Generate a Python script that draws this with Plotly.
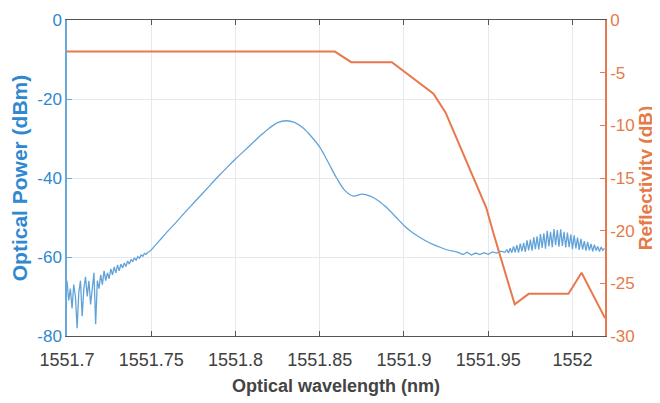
import plotly.graph_objects as go

# ---- Optical power (left axis) ----
wl_left = [1551.700, 1551.701, 1551.702, 1551.703, 1551.704, 1551.705, 1551.706, 1551.707, 1551.708, 1551.709,
           1551.710, 1551.711, 1551.712, 1551.713, 1551.714, 1551.715, 1551.716, 1551.717, 1551.718, 1551.719,
           1551.720, 1551.721, 1551.722, 1551.723, 1551.724, 1551.725, 1551.726, 1551.727, 1551.728, 1551.729,
           1551.730, 1551.731, 1551.732, 1551.733, 1551.734, 1551.735, 1551.736, 1551.737, 1551.738, 1551.739,
           1551.740, 1551.741, 1551.742, 1551.743, 1551.744, 1551.745, 1551.746, 1551.747, 1551.748, 1551.749,
           1551.750]
pw_left = [-66, -71, -68, -73, -67, -70, -78, -69, -66, -75,
           -68, -65, -70, -66, -72, -67, -64, -77, -66, -68,
           -64.5, -67, -63.5, -66, -64, -65.5, -63, -64.5, -62.5, -64,
           -62, -63.5, -61.8, -62.8, -61.5, -62.4, -61, -61.8, -60.6, -61.2,
           -60.2, -60.8, -59.9, -60.3, -59.5, -59.8, -59.1, -59.3, -58.8, -58.6,
           -58.2]

wl_mid = [1551.750, 1551.755, 1551.760, 1551.765, 1551.770, 1551.775, 1551.780, 1551.785, 1551.790, 1551.795,
          1551.800, 1551.805, 1551.810, 1551.815, 1551.820, 1551.825, 1551.830, 1551.835, 1551.840, 1551.845,
          1551.850, 1551.855, 1551.860, 1551.865, 1551.870, 1551.875, 1551.880, 1551.885, 1551.890, 1551.895,
          1551.900, 1551.905, 1551.910, 1551.915, 1551.920, 1551.925, 1551.930]
pw_mid = [-58.2, -55.8, -53.4, -51.1, -48.7, -46.4, -44.1, -41.8, -39.5, -37.3,
          -35.2, -33.2, -31.2, -29.2, -27.4, -26.0, -25.5, -25.9, -27.3, -29.5,
          -32.2, -36.0, -40.0, -43.2, -44.6, -44.1, -44.6, -45.8, -47.6, -49.8,
          -52.0, -53.8, -55.2, -56.4, -57.3, -58.1, -58.6]

wl_flat = [1551.930, 1551.9325, 1551.935, 1551.9375, 1551.940, 1551.9425, 1551.945, 1551.9475, 1551.950,
           1551.9525, 1551.955, 1551.9575, 1551.960]
pw_flat = [-58.6, -58.9, -59.4, -58.8, -59.5, -59.0, -59.4, -58.9, -59.3, -58.7, -59.0, -58.5, -58.8]

wl_osc = [1551.960, 1551.961, 1551.962, 1551.963, 1551.964, 1551.965, 1551.966, 1551.967, 1551.968, 1551.969,
          1551.970, 1551.971, 1551.972, 1551.973, 1551.974, 1551.975, 1551.976, 1551.977, 1551.978, 1551.979,
          1551.980, 1551.981, 1551.982, 1551.983, 1551.984, 1551.985, 1551.986, 1551.987, 1551.988, 1551.989,
          1551.990, 1551.991, 1551.992, 1551.993, 1551.994, 1551.995, 1551.996, 1551.997, 1551.998, 1551.999,
          1552.000, 1552.001, 1552.002, 1552.003, 1552.004, 1552.005, 1552.006, 1552.007, 1552.008, 1552.009,
          1552.010, 1552.011, 1552.012, 1552.013, 1552.014, 1552.015, 1552.016, 1552.017, 1552.018, 1552.019]
pw_osc = [-58.8, -58.1, -59.0, -57.8, -58.9, -57.3, -58.8, -57.0, -58.9, -56.6,
          -58.6, -56.4, -58.7, -55.8, -58.3, -55.6, -58.4, -55.0, -58.0, -54.8,
          -58.1, -54.2, -57.7, -54.0, -57.9, -53.4, -57.3, -53.6, -57.5, -52.9,
          -57.0, -53.2, -57.4, -53.0, -57.2, -53.6, -57.6, -53.8, -57.5, -54.3,
          -58.0, -54.5, -57.8, -55.1, -58.2, -55.4, -58.1, -56.0, -58.4, -56.2,
          -58.3, -56.7, -58.6, -56.9, -58.4, -57.3, -58.6, -57.5, -58.3, -57.8]

# ---- Reflectivity (right axis) ----
wl_refl = [1551.700, 1551.859, 1551.8687, 1551.8928, 1551.9175, 1551.9247, 1551.9488, 1551.953,
           1551.9657, 1551.974, 1551.9976, 1552.0054, 1552.0193]
refl = [-3, -3, -4, -4, -7, -8.8, -17.8, -20.2, -27, -26, -26, -24, -28.3]

# ---- Tick labels ----
x_ticks = [1551.7, 1551.75, 1551.8, 1551.85, 1551.9, 1551.95, 1552.0]
x_tick_text = ["1551.7", "1551.75", "1551.8", "1551.85", "1551.9", "1551.95", "1552"]
y1_ticks = [0, -20, -40, -60, -80]
y1_tick_text = ["0", "-20", "-40", "-60", "-80"]
y2_ticks = [0, -5, -10, -15, -20, -25, -30]
y2_tick_text = ["0", "-5", "-10", "-15", "-20", "-25", "-30"]

BLUE_LINE = "rgba(75,150,212,0.88)"
BLUE_TXT = "#2f88d0"
BLUE_AX = "#6aa8dc"
ORANGE = "#e8784d"
ORANGE_TXT = "#e57a48"
FONT = "Liberation Sans, Arial, sans-serif"

fig = go.Figure()
for xs, ys, shp in [(wl_left, pw_left, "linear"), (wl_mid, pw_mid, "spline"),
                    (wl_flat, pw_flat, "linear"), (wl_osc, pw_osc, "linear")]:
    fig.add_trace(go.Scatter(x=xs, y=ys, mode="lines", line=dict(color=BLUE_LINE, width=1.3, shape=shp),
                             showlegend=False, hoverinfo="skip"))
fig.add_trace(go.Scatter(x=wl_refl, y=refl, mode="lines", yaxis="y2",
                         line=dict(color=ORANGE, width=2), showlegend=False))

fig.update_layout(
    width=652, height=395,
    margin=dict(l=59, r=55, t=12, b=67),
    paper_bgcolor="white", plot_bgcolor="white",
    font=dict(family=FONT),
    xaxis=dict(range=[1551.7, 1552.0193], tickvals=x_ticks, ticktext=x_tick_text,
               showgrid=True, gridcolor="#e6e8ee", gridwidth=1,
               showline=True, linecolor="#555555", linewidth=1.2, mirror="ticks",
               ticks="inside", ticklen=5, tickcolor="#555555",
               tickfont=dict(size=18, color="#404040"), ticklabelstandoff=7,
               title=dict(text="<b>Optical wavelength (nm)</b>", font=dict(size=18, color="#444444"), standoff=10),
               zeroline=False, automargin=False),
    yaxis=dict(range=[-80, 0], tickvals=y1_ticks, ticktext=y1_tick_text,
               showgrid=True, gridcolor="#e6e8ee", gridwidth=1,
               showline=True, linecolor=BLUE_AX, linewidth=1.5,
               ticks="inside", ticklen=5, tickcolor=BLUE_AX,
               tickfont=dict(size=17, color=BLUE_TXT),
               title=dict(text="<b>Optical Power (dBm)</b>", font=dict(size=21, color=BLUE_TXT), standoff=5),
               zeroline=False, automargin=False),
    yaxis2=dict(range=[-30, 0], tickvals=y2_ticks, ticktext=y2_tick_text, overlaying="y", side="right",
                showgrid=False, showline=True, linecolor=ORANGE, linewidth=1.5,
                ticks="inside", ticklen=5, tickcolor=ORANGE,
                tickfont=dict(size=17, color=ORANGE_TXT),
                title=dict(text="<b>Reflectivity (dB)</b>", font=dict(size=19, color=ORANGE_TXT), standoff=0),
                zeroline=False, automargin=False),
)

fig.write_html("out.html")
